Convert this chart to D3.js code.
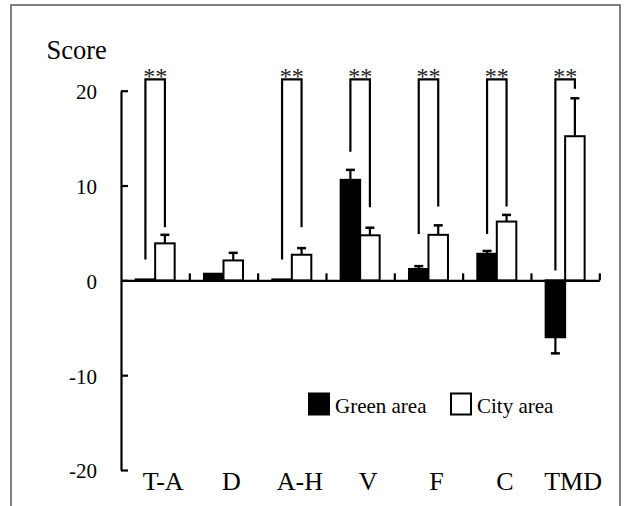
<!DOCTYPE html>
<html>
<head>
<meta charset="utf-8">
<script src="https://cdn.jsdelivr.net/npm/d3@7"></script>
<style>
  html, body { margin: 0; padding: 0; background: #fff; }
  svg { display: block; }
</style>
</head>
<body>
<div id="chart"></div>
<script>
// Datos
const categories = ['T-A', 'D', 'A-H', 'V', 'F', 'C', 'TMD'];
const greenValues = [0.1, 0.7, 0.1, 10.6, 1.2, 2.8, -6.0];
const greenErrors = [0, 0, 0, 1.05, 0.3, 0.3, 1.7];
const cityValues = [3.9, 2.1, 2.7, 4.75, 4.8, 6.2, 15.2];
const cityErrors = [0.9, 0.8, 0.7, 0.8, 1.0, 0.7, 4.0];
// Corchetes de significancia (extremos inferiores de cada pata, null = sin corchete)
const bracketLeftEnd = [2.2, null, 2.2, 13.55, 4.9, 4.9, 1.05];
const bracketRightEnd = [5.6, null, 5.6, 7.7, 7.8, 7.8, 20.2];
const bracketTop = 21.2;
const sigLabels = ['**', '', '**', '**', '**', '**', '**'];
const yTicks = [-20, -10, 0, 10, 20];
const seriesNames = ['Green area', 'City area'];

const W = 624, H = 506;
const FONT = '"Liberation Serif", "Times New Roman", serif';

d3.select('#chart').html('');
const svg = d3.select('#chart').append('svg')
    .attr('width', W)
    .attr('height', H);

// Marco exterior
svg.append('rect')
    .attr('x', 11).attr('y', 5)
    .attr('width', 609).attr('height', 520)
    .style('fill', 'none')
    .style('stroke', '#555')
    .style('stroke-width', 1.5);

// Escalas
const y = d3.scaleLinear().domain([-20, 20]).range([470, 90.7]);
const x = d3.scaleBand().domain(categories).range([121, 599.3]).padding(0);
const xIdx = d3.scaleLinear().domain([0, categories.length]).range([121, 599.3]);
const barW = 19.5;

// Eje Y
const yAxis = svg.append('g')
    .attr('transform', 'translate(121,0)')
    .call(d3.axisLeft(y).tickValues(yTicks).tickFormat(d => String(d))
        .tickSizeInner(-7).tickSizeOuter(0).tickPadding(24));
yAxis.attr('font-family', null).attr('font-size', null);
yAxis.selectAll('path, line').style('stroke', '#000').style('stroke-width', 2.2);
yAxis.selectAll('text')
    .style('font-family', FONT)
    .style('font-size', '21px')
    .style('fill', '#000')
    .attr('dy', '0.38em');

// Eje X (en y=0)
const xAxis = svg.append('g')
    .attr('transform', `translate(0,${y(0)})`)
    .call(d3.axisTop(xIdx).tickValues(d3.range(1, categories.length + 1)).tickSize(7).tickSizeOuter(0).tickFormat(''));
xAxis.selectAll('path, line').style('stroke', '#000').style('stroke-width', 2.2);

// Etiquetas de categorías
svg.selectAll('.cat-label')
    .data(categories)
    .enter().append('text')
    .attr('class', 'cat-label')
    .attr('x', d => x(d) + x.bandwidth() / 2 + 8)
    .attr('y', 490)
    .attr('text-anchor', 'middle')
    .style('font-family', FONT)
    .style('font-size', '26px')
    .text(d => d);

// Título eje Y
svg.append('text')
    .attr('x', 46.5)
    .attr('y', 58.5)
    .style('font-family', FONT)
    .style('font-size', '26.5px')
    .text('Score');

const cx = (i, s) => x(categories[i]) + x.bandwidth() / 2 + (s === 0 ? -barW / 2 : barW / 2);

// Barras
const series = [
    { vals: greenValues, errs: greenErrors, fill: '#000' },
    { vals: cityValues, errs: cityErrors, fill: '#fff' }
];

series.forEach((s, si) => {
    // Barras de error
    s.vals.forEach((v, i) => {
        if (!s.errs[i]) return;
        const end = v >= 0 ? v + s.errs[i] : v - s.errs[i];
        const c = cx(i, si);
        svg.append('line')
            .attr('x1', c).attr('x2', c)
            .attr('y1', y(v)).attr('y2', y(end))
            .style('stroke', '#000').style('stroke-width', 2.2);
        svg.append('line')
            .attr('x1', c - 4.5).attr('x2', c + 4.5)
            .attr('y1', y(end)).attr('y2', y(end))
            .style('stroke', '#000').style('stroke-width', 2.5);
    });

    svg.selectAll('.bar-' + si)
        .data(s.vals)
        .enter().append('rect')
        .attr('class', 'bar-' + si)
        .attr('x', (d, i) => cx(i, si) - barW / 2)
        .attr('y', d => y(Math.max(0, d)))
        .attr('width', barW)
        .attr('height', d => Math.abs(y(d) - y(0)))
        .style('fill', s.fill)
        .style('stroke', '#000')
        .style('stroke-width', 2);
});

// Corchetes de significancia
categories.forEach((c, i) => {
    if (bracketLeftEnd[i] == null) return;
    const x1 = cx(i, 0), x2 = cx(i, 1);
    svg.append('path')
        .attr('d', `M${x1},${y(bracketLeftEnd[i])}V${y(bracketTop)}H${x2}V${y(bracketRightEnd[i])}`)
        .style('fill', 'none')
        .style('stroke', '#000')
        .style('stroke-width', 2.2);
    svg.append('text')
        .attr('x', (x1 + x2) / 2)
        .attr('y', 84)
        .attr('text-anchor', 'middle')
        .style('font-family', FONT)
        .style('font-size', '24px')
        .style('fill', '#222')
        .text(sigLabels[i]);
});

// Leyenda
const legendFills = ['#000', '#fff'];
const legendX = [309, 451];
seriesNames.forEach((name, i) => {
    svg.append('rect')
        .attr('x', legendX[i]).attr('y', 393.5)
        .attr('width', 20).attr('height', 21)
        .style('fill', legendFills[i])
        .style('stroke', '#000')
        .style('stroke-width', 2);
    svg.append('text')
        .attr('x', legendX[i] + 26)
        .attr('y', 412.5)
        .style('font-family', FONT)
        .style('font-size', '21px')
        .text(name);
});
</script>
</body>
</html>
